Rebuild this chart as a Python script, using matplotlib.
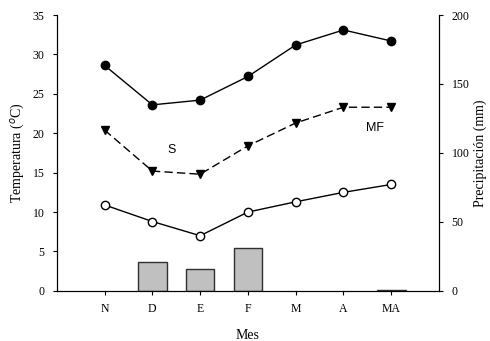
import numpy as np
import matplotlib.pyplot as plt

months = ['N', 'D', 'E', 'F', 'M', 'A', 'MA']
t_max = [28.6, 23.6, 24.2, 27.2, 31.2, 33.1, 31.7]
t_mean = [20.4, 15.2, 14.8, 18.4, 21.3, 23.3, 23.3]
t_min = [10.9, 8.8, 7.0, 10.0, 11.3, 12.5, 13.5]
precip = [0, 21, 16, 31, 0, 0, 0.4]

plt.rcParams['font.family'] = ['Liberation Serif', 'DejaVu Serif']

fig = plt.figure(figsize=(4.9, 3.41), dpi=100)
ax = fig.add_axes([0.116, 0.147, 0.78, 0.809])
ax2 = ax.twinx()

x = np.arange(len(months))

# no outline on empty months
lw = [1 if p > 0 else 0 for p in precip]
ax2.bar(x, precip, width=0.6, color='#c0c0c0', edgecolor='#303030', linewidth=lw)
ax2.set_ylim(0, 200)
ax2.set_yticks([0, 50, 100, 150, 200])
ax2.set_ylabel('Precipitación (mm)', fontsize=10, labelpad=3)

ax.set_zorder(ax2.get_zorder() + 1)
ax.patch.set_visible(False)

ax.plot(x, t_max, '-', color='black', marker='o', markersize=6, linewidth=1)
ax.plot(x, t_mean, '--', color='black', marker='v', markersize=6, linewidth=1, dashes=(6, 3))
ax.plot(x, t_min, '-', color='black', marker='o', markersize=6, linewidth=1,
        markerfacecolor='white', markeredgecolor='black')

ax.text(1.41, 17.9, 'S', family='Liberation Sans', fontsize=9, ha='center', va='center')
ax.text(5.66, 20.7, 'MF', family='Liberation Sans', fontsize=9, ha='center', va='center')

ax.set_xlim(-1, 7)
ax.set_ylim(0, 35)
ax.set_xticks(x)
ax.set_xticklabels(months)
ax.set_yticks(range(0, 36, 5))
ax.set_xlabel('Mes', fontsize=10, labelpad=10)
ax.set_ylabel('Temperatura ($^{o}$C)', fontsize=10)

for a in (ax, ax2):
    a.spines['top'].set_visible(False)
    a.tick_params(labelsize=8.5, length=3, width=0.8, pad=6)
    for s in a.spines.values():
        s.set_linewidth(0.8)

plt.savefig('out.png', dpi=100)
